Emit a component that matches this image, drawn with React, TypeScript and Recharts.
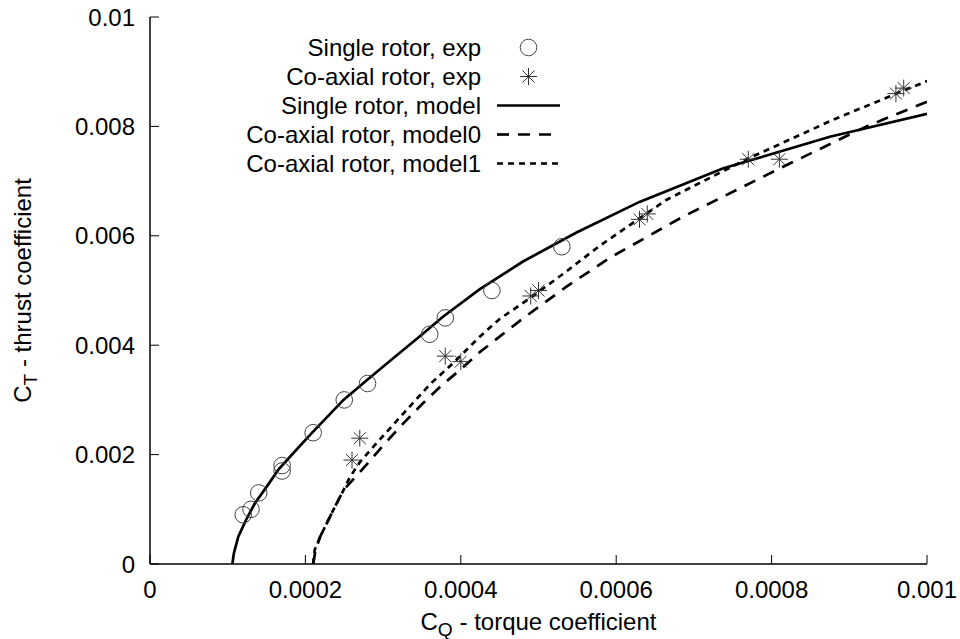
import { ComposedChart, Line, Scatter, XAxis, YAxis, Label, Legend } from "recharts";

const xTicks = [0, 0.0002, 0.0004, 0.0006, 0.0008, 0.001];
const xTickLabels = ["0", "0.0002", "0.0004", "0.0006", "0.0008", "0.001"];
const yTicks = [0, 0.002, 0.004, 0.006, 0.008, 0.01];
const yTickLabels = ["0", "0.002", "0.004", "0.006", "0.008", "0.01"];

// measured points (C_Q, C_T)
const singleExp: [number, number][] = [
  [0.00012, 0.0009], [0.00013, 0.001], [0.00014, 0.0013], [0.00017, 0.0017],
  [0.00017, 0.0018], [0.00021, 0.0024], [0.00025, 0.003], [0.00028, 0.0033],
  [0.00036, 0.0042], [0.00038, 0.0045], [0.00044, 0.005], [0.00053, 0.0058],
];
const coaxialExp: [number, number][] = [
  [0.00026, 0.0019], [0.00027, 0.0023], [0.00038, 0.0038], [0.0004, 0.0037],
  [0.00049, 0.0049], [0.0005, 0.005], [0.00063, 0.0063], [0.00064, 0.0064],
  [0.00077, 0.0074], [0.00081, 0.0074], [0.00096, 0.0086], [0.00097, 0.0087],
];

// model curves
const singleModel: [number, number][] = [
  [0.000106, 0], [0.000108, 0.0002], [0.0001136, 0.0005], [0.0001234, 0.0008],
  [0.000135, 0.00111], [0.00015, 0.00141], [0.000165, 0.00172], [0.000184, 0.00202],
  [0.000206, 0.00236], [0.000249, 0.003], [0.000279, 0.00336], [0.000313, 0.00376],
  [0.000352, 0.00422], [0.000377, 0.00452], [0.000425, 0.00503], [0.00048, 0.00553],
  [0.000549, 0.00606], [0.00063, 0.00662], [0.000737, 0.00723], [0.000875, 0.00781],
  [0.001, 0.00823],
];
const coaxialModel0: [number, number][] = [
  [0.00021, 0], [0.000213, 0.00025], [0.000219, 0.0005], [0.000236, 0.00099],
  [0.000249, 0.00135], [0.000265, 0.0016], [0.000279, 0.00182], [0.000302, 0.0022],
  [0.000326, 0.00257], [0.00035, 0.00292], [0.000375, 0.00326], [0.0004, 0.00356],
  [0.000425, 0.00388], [0.00048, 0.00449], [0.000536, 0.00507], [0.000592, 0.0056],
  [0.000686, 0.00635], [0.000806, 0.0072], [0.000922, 0.008], [0.001, 0.00845],
];
const coaxialModel1: [number, number][] = [
  [0.00021, 0], [0.000212, 0.00026], [0.000219, 0.0005], [0.000236, 0.00099],
  [0.000249, 0.00135], [0.000257, 0.00158], [0.00027, 0.00186], [0.000291, 0.0022],
  [0.000326, 0.00275], [0.00036, 0.00328], [0.00039, 0.00367], [0.000424, 0.00415],
  [0.00045, 0.00448], [0.000493, 0.0049], [0.000536, 0.00535], [0.000579, 0.00582],
  [0.000665, 0.00666], [0.000768, 0.0074], [0.000879, 0.00812], [0.001, 0.00883],
];

const legendNames = [
  "Single rotor, exp",
  "Co-axial rotor, exp",
  "Single rotor, model",
  "Co-axial rotor, model0",
  "Co-axial rotor, model1",
];

const FONT = '"Liberation Sans", Arial, Helvetica, sans-serif';
const FS = 24;
const DASH0 = "12 9";
const DASH1 = "6 5";

const toXY = (pts: [number, number][]) => pts.map(([x, y]) => ({ x, y }));

function OpenCircle({ cx, cy }: any) {
  return <circle cx={cx} cy={cy} r={8.3} fill="none" stroke="#444" strokeWidth={1} />;
}

function Star({ cx, cy }: any) {
  const r = 8.5;
  const d = r * 0.707;
  return (
    <g stroke="#333" strokeWidth={1}>
      <line x1={cx - r} y1={cy} x2={cx + r} y2={cy} />
      <line x1={cx} y1={cy - r} x2={cx} y2={cy + r} />
      <line x1={cx - d} y1={cy - d} x2={cx + d} y2={cy + d} />
      <line x1={cx - d} y1={cy + d} x2={cx + d} y2={cy - d} />
    </g>
  );
}

function BottomTick({ x, y, index }: any) {
  return (
    <g>
      <line x1={x} y1={y} x2={x} y2={y - 9} stroke="#000" />
      <text x={x} y={y + 34} textAnchor="middle" fontSize={FS} fontFamily={FONT} fill="#000">
        {xTickLabels[index]}
      </text>
    </g>
  );
}
function TopTick({ x, y }: any) {
  return <line x1={x} y1={y} x2={x} y2={y + 9} stroke="#000" />;
}
function LeftTick({ x, y, index }: any) {
  return (
    <g>
      <line x1={x} y1={y} x2={x + 9} y2={y} stroke="#000" />
      <text x={x - 15} y={y + 8.5} textAnchor="end" fontSize={FS} fontFamily={FONT} fill="#000">
        {yTickLabels[index]}
      </text>
    </g>
  );
}
function RightTick({ x, y }: any) {
  return <line x1={x} y1={y} x2={x - 9} y2={y} stroke="#000" />;
}

function XTitle({ viewBox }: any) {
  const cx = viewBox.x + viewBox.width / 2;
  return (
    <text x={cx} y={viewBox.y + 66} textAnchor="middle" fontSize={FS} fontFamily={FONT} fill="#000">
      C<tspan fontSize={FS * 0.8} dy={6}>Q</tspan>
      <tspan dy={-6}> - torque coefficient</tspan>
    </text>
  );
}
function YTitle({ viewBox }: any) {
  const cx = viewBox.x + 23;
  const cy = viewBox.y + viewBox.height / 2;
  return (
    <text x={cx} y={cy} transform={`rotate(-90 ${cx} ${cy})`} dy={8} textAnchor="middle" fontSize={FS} fontFamily={FONT} fill="#000">
      C<tspan fontSize={FS * 0.8} dy={6}>T</tspan>
      <tspan dy={-6}> - thrust coefficient</tspan>
    </text>
  );
}

function KeyBox() {
  const textRight = 481;
  const x0 = 497;
  const x1 = 560;
  const mid = (x0 + x1) / 2;
  const rowY = (i: number) => 47.5 + i * 29;
  return (
    <svg width={960} height={200} style={{ display: "block" }}>
      {legendNames.map((name, i) => (
        <text key={name} x={textRight} y={rowY(i) + 8.5} textAnchor="end" fontSize={FS} fontFamily={FONT} fill="#000">
          {name}
        </text>
      ))}
      <OpenCircle cx={mid} cy={rowY(0)} />
      <Star cx={mid} cy={rowY(1)} />
      <line x1={x0} y1={rowY(2)} x2={x1} y2={rowY(2)} stroke="#000" strokeWidth={2.7} />
      <line x1={x0} y1={rowY(3)} x2={x1} y2={rowY(3)} stroke="#000" strokeWidth={2.7} strokeDasharray={DASH0} />
      <line x1={x0} y1={rowY(4)} x2={x1} y2={rowY(4)} stroke="#000" strokeWidth={2.7} strokeDasharray={DASH1} />
    </svg>
  );
}

export default function App() {
  return (
    <div style={{ position: "absolute", left: 0, top: 0, background: "#fff" }}>
      <ComposedChart width={960} height={639} margin={{ top: 17, right: 33, bottom: 0, left: 0 }}>
        <XAxis
          type="number" dataKey="x" domain={[0, 0.001]} ticks={xTicks} allowDataOverflow
          height={75} tickSize={0} tickMargin={0} tickLine={false} tick={<BottomTick />}
          axisLine={{ stroke: "#000", strokeWidth: 1.5 }}
        >
          <Label content={<XTitle />} />
        </XAxis>
        <XAxis
          xAxisId="top" orientation="top" type="number" dataKey="x" domain={[0, 0.001]} ticks={xTicks}
          allowDataOverflow height={0} tickSize={0} tickMargin={0} tickLine={false} tick={<TopTick />}
          axisLine={{ stroke: "#000", strokeWidth: 1.5 }}
        />
        <YAxis
          type="number" dataKey="y" domain={[0, 0.01]} ticks={yTicks} allowDataOverflow
          width={150} tickSize={0} tickMargin={0} tickLine={false} tick={<LeftTick />}
          axisLine={{ stroke: "#000", strokeWidth: 1.5 }}
        >
          <Label content={<YTitle />} />
        </YAxis>
        <YAxis
          yAxisId="right" orientation="right" type="number" dataKey="y" domain={[0, 0.01]} ticks={yTicks}
          allowDataOverflow width={0} tickSize={0} tickMargin={0} tickLine={false} tick={<RightTick />}
          axisLine={{ stroke: "#000", strokeWidth: 1.5 }}
        />
        <Line data={toXY(singleModel)} dataKey="y" type="linear" dot={false} stroke="#000" strokeWidth={2.7} isAnimationActive={false} />
        <Line data={toXY(coaxialModel0)} dataKey="y" type="linear" dot={false} stroke="#000" strokeWidth={2.7} strokeDasharray={DASH0} isAnimationActive={false} />
        <Line data={toXY(coaxialModel1)} dataKey="y" type="linear" dot={false} stroke="#000" strokeWidth={2.7} strokeDasharray={DASH1} isAnimationActive={false} />
        <Scatter data={toXY(singleExp)} dataKey="y" shape={<OpenCircle />} isAnimationActive={false} />
        <Scatter data={toXY(coaxialExp)} dataKey="y" shape={<Star />} isAnimationActive={false} />
        <Legend
          layout="vertical" align="center" verticalAlign="middle" content={<KeyBox />}
          wrapperStyle={{ position: "absolute", left: 0, top: 0, width: 960, height: 200 }}
        />
      </ComposedChart>
    </div>
  );
}
